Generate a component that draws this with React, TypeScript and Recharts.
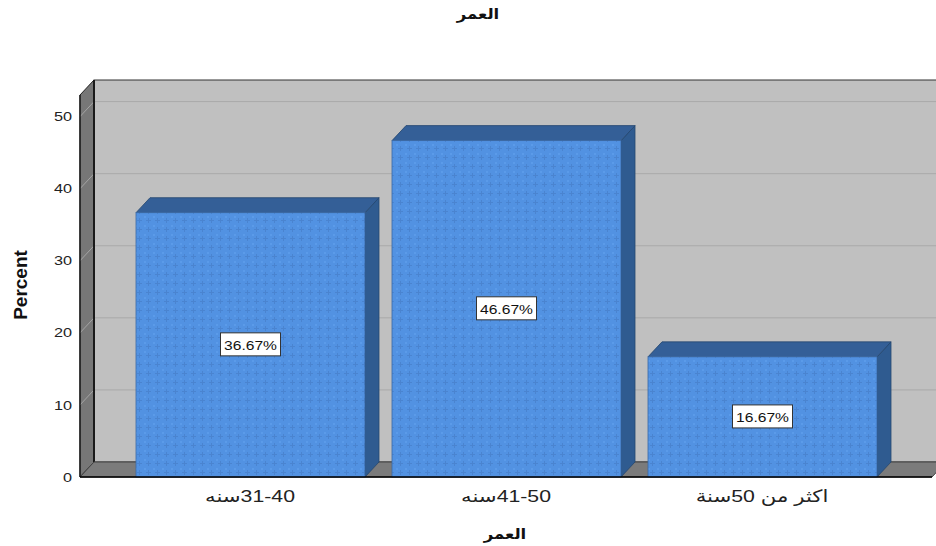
import React from 'react';
import { BarChart, Bar, XAxis, YAxis, ReferenceArea, LabelList } from 'recharts';

// data
const CATEGORIES = ['31-40سنه', '41-50سنه', 'اكثر من 50سنة'];
const PERCENTS = [36.67, 46.67, 16.67];
const Y_TICKS = [0, 10, 20, 30, 40, 50];
const Y_MAX = 53;

const data = CATEGORIES.map((name, i) => ({ name, value: PERCENTS[i] }));

// 3D depth offset and layout
const DX = 14;
const DY = 15;
const CHART_W = 950;
const CHART_H = 546;
const MARGIN = { top: 95, right: 18, bottom: 29, left: 10 };
const Y_AXIS_W = 70;
const PLOT_LEFT = MARGIN.left + Y_AXIS_W;
const PLOT_RIGHT = CHART_W - MARGIN.right;

const FONT = '"Liberation Sans", Arial, "DejaVu Sans", sans-serif';
// the source picture is stretched sideways, so text gets a horizontal scale
const SX = 1.25;
const stretch = (x: number) => `translate(${x},0) scale(${SX},1) translate(${-x},0)`;

// back wall, side wall, floor and gridlines
const Walls = (props: any) => {
  const { y, height } = props;
  const top = y;
  const bottom = y + height;
  const L = PLOT_LEFT;
  const R = PLOT_RIGHT;
  const tickY = (t: number) => top + height * (1 - t / Y_MAX);
  return (
    <g>
      <rect x={L + DX} y={top - DY} width={R - L + 40} height={height} fill="#c0c0c0" stroke="#333" strokeWidth={1} />
      {Y_TICKS.filter((t) => t > 0).map((t) => (
        <line key={`bg-${t}`} x1={L + DX} x2={R + 40} y1={tickY(t) - DY} y2={tickY(t) - DY} stroke="#a9a9a9" strokeWidth={1} />
      ))}
      <polygon
        points={`${L},${top} ${L + DX},${top - DY} ${L + DX},${bottom - DY} ${L},${bottom}`}
        fill="#777777"
        stroke="#222"
        strokeWidth={1}
      />
      {Y_TICKS.filter((t) => t > 0).map((t) => (
        <line key={`sg-${t}`} x1={L} x2={L + DX} y1={tickY(t)} y2={tickY(t) - DY} stroke="#a4a4a4" strokeWidth={1} />
      ))}
      <line x1={L + DX} x2={L + DX} y1={top - DY} y2={bottom - DY} stroke="#1a1a1a" strokeWidth={2} />
      <polygon
        points={`${L},${bottom} ${L + DX},${bottom - DY} ${R + DX},${bottom - DY} ${R},${bottom}`}
        fill="#7b7b7b"
        stroke="#444"
        strokeWidth={1}
      />
      <line x1={L} x2={L} y1={top} y2={bottom} stroke="#222" strokeWidth={1.5} />
    </g>
  );
};

const Bar3D = (props: any) => {
  const { x, y, width, height } = props;
  const topFace = `${x},${y} ${x + DX},${y - DY} ${x + width + DX},${y - DY} ${x + width},${y}`;
  const sideFace = `${x + width},${y} ${x + width + DX},${y - DY} ${x + width + DX},${y + height - DY} ${x + width},${y + height}`;
  return (
    <g>
      <polygon points={sideFace} fill="#2f5b90" stroke="#24466f" strokeWidth={0.8} />
      <polygon points={topFace} fill="#345f97" stroke="#24466f" strokeWidth={0.8} />
      <rect x={x} y={y} width={width} height={height} fill="url(#barPattern)" stroke="#3a69a6" strokeWidth={0.8} />
    </g>
  );
};

const PctLabel = (props: any) => {
  const { x, y, width, height, value } = props;
  const cx = x + width / 2;
  const cy = y + height / 2;
  return (
    <g>
      <rect x={cx - 30} y={cy - 12} width={60} height={23} fill="#fff" stroke="#333" strokeWidth={1} />
      <text x={cx} y={cy + 5} textAnchor="middle" fontSize={12.5} fontFamily={FONT} fill="#111" transform={stretch(cx)}>
        {`${Number(value).toFixed(2)}%`}
      </text>
    </g>
  );
};

const CatTick = (props: any) => {
  const { x, y, payload } = props;
  return (
    <text
      x={x}
      y={y + 23}
      textAnchor="middle"
      fontSize={17}
      fontFamily={FONT}
      fill="#222"
      transform={stretch(x)}
      style={{ direction: 'rtl', unicodeBidi: 'embed' }}
    >
      {payload.value}
    </text>
  );
};

const ValTick = (props: any) => {
  const { x, y, payload } = props;
  return (
    <text x={x} y={y} dy="0.355em" textAnchor="end" fontSize={13} fontFamily={FONT} fill="#222" transform={stretch(x)}>
      {payload.value}
    </text>
  );
};

export default function App() {
  return (
    <div style={{ position: 'absolute', left: 0, top: 0, width: 936, height: 546, overflow: 'hidden', background: '#fff', fontFamily: FONT }}>
      <svg width={0} height={0} style={{ position: 'absolute' }}>
        <defs>
          <pattern id="barPattern" width={9} height={9} patternUnits="userSpaceOnUse">
            <rect width={9} height={9} fill="#5292e2" />
            <rect x={2} y={4} width={5} height={1} fill="#4a84d0" />
            <rect x={4} y={2} width={1} height={5} fill="#4a84d0" />
            <rect x={0} y={0} width={2} height={2} fill="#5b9be9" />
          </pattern>
        </defs>
      </svg>

      <div style={{ position: 'absolute', left: 478, top: 14, transform: 'translate(-50%, -50%) scaleX(1.1)', fontWeight: 'bold', fontSize: 15, color: '#111', whiteSpace: 'nowrap' }}>
        العمر
      </div>

      <BarChart width={CHART_W} height={CHART_H} data={data} margin={MARGIN}>
        <ReferenceArea y1={0} y2={Y_MAX} shape={<Walls />} zIndex={-10} ifOverflow="visible" />
        <XAxis
          dataKey="name"
          height={40}
          padding={{ left: 42, right: 42 }}
          tickLine={false}
          tickSize={0}
          axisLine={{ stroke: '#000', strokeWidth: 1.5 }}
          tick={<CatTick />}
          interval={0}
        />
        <YAxis
          width={Y_AXIS_W}
          domain={[0, Y_MAX]}
          ticks={Y_TICKS}
          axisLine={false}
          tickLine={false}
          tickSize={0}
          tickMargin={8}
          tick={<ValTick />}
        />
        <Bar dataKey="value" barSize={229} shape={<Bar3D />} isAnimationActive={false}>
          <LabelList dataKey="value" content={<PctLabel />} />
        </Bar>
      </BarChart>

      <div
        style={{
          position: 'absolute',
          left: 21,
          top: 285,
          transform: 'translate(-50%, -50%) rotate(-90deg)',
          fontWeight: 'bold',
          fontSize: 19,
          color: '#111',
          whiteSpace: 'nowrap',
        }}
      >
        Percent
      </div>

      <div style={{ position: 'absolute', left: 505, top: 534, transform: 'translate(-50%, -50%) scaleX(1.1)', fontWeight: 'bold', fontSize: 15, color: '#111', whiteSpace: 'nowrap' }}>
        العمر
      </div>
    </div>
  );
}
